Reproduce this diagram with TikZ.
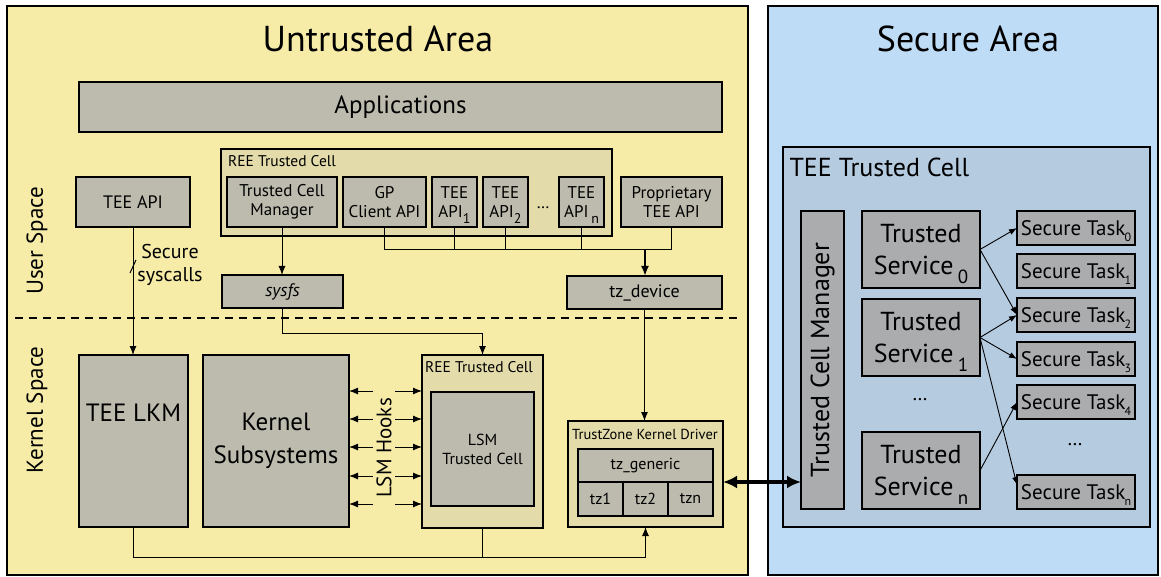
\documentclass[tikz,border=0pt]{standalone}
\usepackage{fontspec}
\setmainfont{PT Sans}
\usepackage{tikz}
\usetikzlibrary{
    arrows.meta,
    calc,
    positioning
}
\definecolor{untrusted}{RGB}{246,236,168}
\definecolor{secure}{RGB}{191,220,246}
\definecolor{blockgray}{RGB}{189,187,173}
\definecolor{cellbeige}{RGB}{227,220,170}
\definecolor{cellblue}{RGB}{181,203,224}
\definecolor{securegray}{RGB}{170,172,174}
\newcommand{\fs}[2]{\fontsize{#1}{#2}\selectfont}
\newcommand{\lowsub}[3]{\smash{\raisebox{-#2pt}{\fs{#1}{#1}#3}}}

\begin{document}
\begin{tikzpicture}[x=1pt, y=-1pt,
    area/.style={draw, line width=1.2pt, inner sep=0pt, outer sep=0pt, anchor=north west},
    cell/.style={area},
    blk/.style={area, fill=blockgray, align=center},
    sblk/.style={blk, fill=securegray},
    conn/.style={line width=1pt},
    arr/.style={conn, -{Latex[length=9pt,width=7pt]}},
    sarr/.style={line width=0.9pt, -{Latex[length=8pt,width=6pt]}}]
    \useasboundingbox (0,0) rectangle (1161,577);
    \node[area, fill=untrusted, minimum width=741, minimum height=569] (untr) at (7,6) {};
    \node[area, fill=secure, minimum width=390, minimum height=569] (secr) at (768,6) {};
    \node[anchor=base, font=\fs{36}{40}] (untrtitle) at (378,52) {Untrusted Area};
    \node[anchor=base, font=\fs{36}{40}] (secrtitle) at (968,52) {Secure Area};
    \node[blk, minimum width=643, minimum height=50, font=\fs{25}{30}] (apps) at (79,82) {Applications};
    \node[rotate=90, font=\fs{23}{28}] (userspace) at (37,241) {User Space};
    \node[rotate=90, font=\fs{23}{28}] (kernelspace) at (37,410) {Kernel Space};
    \draw[line width=1.3pt, dash pattern=on 8pt off 6pt] (15,318) -- (742,318);

    \node[blk, minimum width=114, minimum height=50, font=\fs{18}{22}] (teeapi) at (76,177) {TEE API};
    \node[cell, fill=cellbeige, minimum width=391, minimum height=87] (reeuser) at (221,149) {};
    \node[anchor=base west, inner sep=0pt, font=\fs{15.5}{18}] (reeuserlbl) at (228,167) {REE Trusted Cell};
    \node[blk, minimum width=110, minimum height=50, font=\fs{17}{19}] (tcm) at (227,177) {Trusted Cell\\Manager};
    \node[blk, minimum width=83, minimum height=50, font=\fs{17}{19}] (gp) at (343,177) {GP\\Client API};
    \node[blk, minimum width=45, minimum height=50, font=\fs{17}{19}] (api1) at (432,177) {TEE\\API\lowsub{14}{6}{1}};
    \node[blk, minimum width=45, minimum height=50, font=\fs{17}{19}] (api2) at (483,177) {TEE\\API\lowsub{14}{6}{2}};
    \node[font=\fs{17}{19}] (apidots) at (543,208) {\dots};
    \node[blk, minimum width=45, minimum height=50, font=\fs{17}{19}] (apin) at (559,177) {TEE\\API\,\lowsub{14}{6}{n}};
    \node[blk, minimum width=101, minimum height=50, font=\fs{17}{19}] (prop) at (621,177) {Proprietary\\TEE API};
    \node[blk, minimum width=121, minimum height=33, font=\fs{18}{22}\itshape] (sysfs) at (222,275) {sysfs};
    \node[blk, minimum width=155, minimum height=33, font=\fs{18}{22}] (tzdev) at (567,276) {tz\_device};

    \node[blk, minimum width=109, minimum height=172] (lkm) at (79,355) {};
    \node[font=\fs{25}{33}] (lkmlbl) at (lkm.center |- 0,413) {TEE LKM};
    \node[blk, minimum width=146, minimum height=172, font=\fs{25}{33}] (ksub) at (203,355) {Kernel\\Subsystems};
    \node[cell, fill=cellbeige, minimum width=121, minimum height=173] (reekern) at (422,355) {};
    \node[anchor=base west, inner sep=0pt, font=\fs{15.5}{18}] (reekernlbl) at (425,372) {REE Trusted Cell};
    \node[blk, minimum width=103, minimum height=114, font=\fs{16}{19}] (lsmcell) at (431,392) {LSM\\Trusted Cell};
    \node[cell, fill=cellbeige, minimum width=155, minimum height=106] (tzk) at (568,421) {};
    \node[anchor=base, inner sep=0pt, font=\fs{14.5}{17}] (tzklbl) at (645,439) {TrustZone Kernel Driver};
    \node[blk, minimum width=135, minimum height=33, font=\fs{16}{19}] (tzgen) at (578,449) {tz\_generic};
    \node[blk, minimum width=45, minimum height=34, font=\fs{16}{19}] (tz1) at (578,482) {tz1};
    \node[blk, minimum width=45, minimum height=34, font=\fs{16}{19}] (tz2) at (623,482) {tz2};
    \node[blk, minimum width=45, minimum height=34, font=\fs{16}{19}] (tzn) at (668,482) {tzn};
    \node[rotate=90, font=\fs{21}{25}] (lsmhooks) at (384,448) {LSM Hooks};

    \node[cell, fill=cellblue, minimum width=367, minimum height=380] (teecell) at (783,147) {};
    \node[anchor=west, font=\fs{26}{30}] (teecelllbl) at (786,167) {TEE Trusted Cell};
    \node[sblk, minimum width=43, minimum height=298] (stcm) at (801,211) {};
    \node[rotate=90, font=\fs{26}{30}] (stcmlbl) at (stcm.center) {Trusted Cell Manager};
    \node[sblk, minimum width=118, minimum height=77, font=\fs{26}{32}] (ts0) at (862,211) {Trusted\\Service\,\lowsub{19}{9}{0}};
    \node[sblk, minimum width=118, minimum height=77, font=\fs{26}{32}] (ts1) at (862,299) {Trusted\\Service\,\lowsub{19}{9}{1}};
    \node[font=\fs{20}{24}] (tsdots) at (920,400) {\dots};
    \node[sblk, minimum width=118, minimum height=77, font=\fs{26}{32}] (tsn) at (862,432) {Trusted\\Service\,\lowsub{19}{9}{n}};
    \node[sblk, minimum width=118, minimum height=34, font=\fs{21}{24}] (task0) at (1017,211) {Secure Task\kern-1pt\lowsub{12}{6}{0}};
    \node[sblk, minimum width=118, minimum height=34, font=\fs{21}{24}] (task1) at (1017,254) {Secure Task\kern-1pt\lowsub{12}{6}{1}};
    \node[sblk, minimum width=118, minimum height=34, font=\fs{21}{24}] (task2) at (1017,298) {Secure Task\kern-1pt\lowsub{12}{6}{2}};
    \node[sblk, minimum width=118, minimum height=34, font=\fs{21}{24}] (task3) at (1017,342) {Secure Task\kern-1pt\lowsub{12}{6}{3}};
    \node[sblk, minimum width=118, minimum height=34, font=\fs{21}{24}] (task4) at (1017,385) {Secure Task\kern-1pt\lowsub{12}{6}{4}};
    \node[font=\fs{20}{24}] (taskdots) at (1075,445) {\dots};
    \node[sblk, minimum width=118, minimum height=34, font=\fs{21}{24}] (taskn) at (1017,475) {Secure Task\kern-1pt\lowsub{12}{6}{n}};

    \draw[arr] (teeapi.south) -- (teeapi.south |- lkm.north);
    \draw[conn] ($(teeapi.south)+(-3,46)$) -- ($(teeapi.south)+(3,33)$);
    \node[font=\fs{20}{23}, align=center] (syscalls) at (170,265) {Secure\\syscalls};
    \draw[arr] (tcm.south) -- (tcm.south |- sysfs.north);
    \coordinate (bus) at (645,250);
    \draw[conn] (gp.south) |- (bus);
    \foreach \api in {api1,api2,apin}
        \draw[conn] (\api.south) -- (\api.south |- bus);
    \draw[conn] (prop.south) |- (bus);
    \draw[line width=2pt, -{Latex[length=10pt,width=8pt]}] (bus) -- (bus |- tzdev.north);
    \draw[arr] (sysfs.south) -- ++(0,25) -| (reekern.north);
    \draw[arr] (tzdev.south) -- (tzdev.south |- tzk.north);
    \foreach \y in {391,419,447,476,504} {
        \draw[arr] (373,\y) -- (ksub.east |- 0,\y);
        \draw[arr] (395,\y) -- (reekern.west |- 0,\y);
    }
    \coordinate (kbus) at (tzk.south |- 0,557);
    \draw[arr] (lkm.south) |- (kbus) -- (tzk.south);
    \draw[conn] (reekern.south) -- (reekern.south |- kbus);
    \draw[line width=3.5pt, {Latex[length=14pt,width=13pt]}-{Latex[length=14pt,width=13pt]}]
        (tzk.east |- tzn.north) -- (stcm.west |- tzn.north);

    \draw[sarr] (ts0.east) -- (task0.west);
    \draw[sarr] (ts0.east) -- (task2.west);
    \draw[sarr] (ts1.east) -- (task2.west);
    \draw[sarr] (ts1.east) -- (task3.west);
    \draw[sarr] (ts1.east) -- ($(taskn.west)+(0,-7)$);
    \draw[sarr] (tsn.east) -- (task4.west);
\end{tikzpicture}
\end{document}
